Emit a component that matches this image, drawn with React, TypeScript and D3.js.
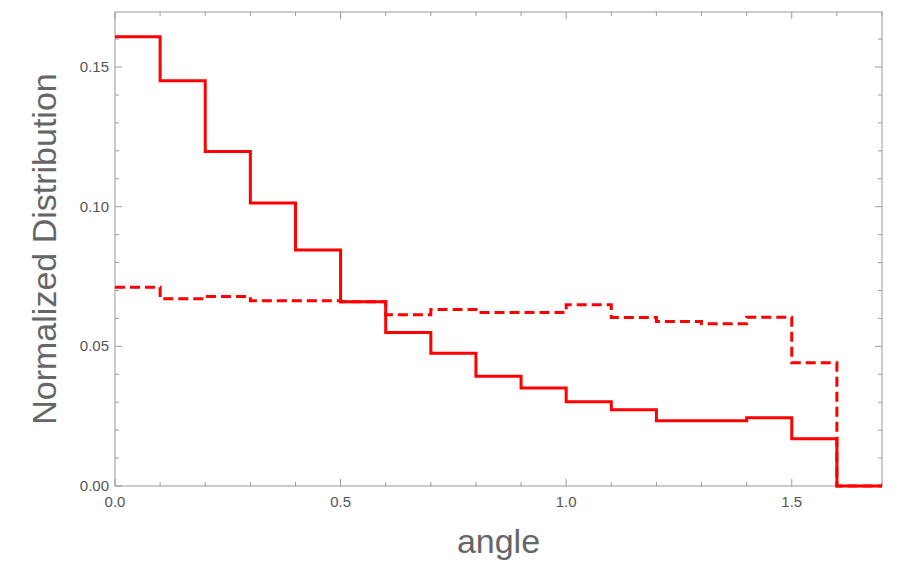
import React from "react";
import * as d3 from "d3";

const binEdges = [0, 0.1, 0.2, 0.3, 0.4, 0.5, 0.6, 0.7, 0.8, 0.9, 1.0, 1.1, 1.2, 1.3, 1.4, 1.5, 1.6, 1.7];
const solidValues = [0.1608, 0.1451, 0.1198, 0.1013, 0.0845, 0.0660, 0.0550, 0.0475, 0.0393, 0.0351, 0.0302, 0.0273, 0.0234, 0.0234, 0.0244, 0.0169, 0];
const dashedValues = [0.0712, 0.0670, 0.0678, 0.0663, 0.0663, 0.0660, 0.0613, 0.0632, 0.0621, 0.0621, 0.0649, 0.0603, 0.0589, 0.0581, 0.0604, 0.0441, 0];
const xMajorTicks = [0, 0.5, 1.0, 1.5];
const yMajorTicks = [0, 0.05, 0.1, 0.15];

const W = 900, H = 565;
const left = 115, right = 882, top = 12, bottom = 486;

export default function App() {
  const x = d3.scaleLinear().domain([0, 1.7]).range([left, right]);
  const y = d3.scaleLinear().domain([0, 0.1697]).range([bottom, top]);

  const stepPath = (vals: number[]) => {
    const pts: [number, number][] = [];
    vals.forEach((v, i) => {
      pts.push([binEdges[i], v]);
      pts.push([binEdges[i + 1], v]);
    });
    return d3.line<[number, number]>().x(d => x(d[0])).y(d => y(d[1]))(pts) || "";
  };

  const xMinor = d3.range(0, 17 + 1).map(i => i / 10).filter(v => !xMajorTicks.some(m => Math.abs(m - v) < 1e-9));
  const yMinor = d3.range(0, 17).map(i => i / 100).filter(v => !yMajorTicks.some(m => Math.abs(m - v) < 1e-9));
  const frame = "#9a9a9a";
  const font = "Liberation Sans, Arial, sans-serif";

  return (
    <svg width={W} height={H} style={{ position: "absolute", left: 0, top: 0, background: "#fff" }}>
      <rect x={left} y={top} width={right - left} height={bottom - top} fill="none" stroke={frame} strokeWidth={1} />
      {/* x ticks bottom & top */}
      {xMajorTicks.map(t => (
        <g key={"xM" + t}>
          <line x1={x(t)} x2={x(t)} y1={bottom} y2={bottom - 7} stroke={frame} />
          <line x1={x(t)} x2={x(t)} y1={top} y2={top + 7} stroke={frame} />
          <text x={x(t)} y={507} textAnchor="middle" fontFamily={font} fontSize={15} fill="#555">{t.toFixed(1)}</text>
        </g>
      ))}
      {xMinor.map(t => (
        <g key={"xm" + t}>
          <line x1={x(t)} x2={x(t)} y1={bottom} y2={bottom - 4} stroke={frame} />
          <line x1={x(t)} x2={x(t)} y1={top} y2={top + 4} stroke={frame} />
        </g>
      ))}
      {/* y ticks left & right */}
      {yMajorTicks.map(t => (
        <g key={"yM" + t}>
          <line x1={left} x2={left + 7} y1={y(t)} y2={y(t)} stroke={frame} />
          <line x1={right} x2={right - 7} y1={y(t)} y2={y(t)} stroke={frame} />
          <text x={109} y={y(t) + 5} textAnchor="end" fontFamily={font} fontSize={15} fill="#555">{t.toFixed(2)}</text>
        </g>
      ))}
      {yMinor.map(t => (
        <g key={"ym" + t}>
          <line x1={left} x2={left + 4} y1={y(t)} y2={y(t)} stroke={frame} />
          <line x1={right} x2={right - 4} y1={y(t)} y2={y(t)} stroke={frame} />
        </g>
      ))}
      <path d={stepPath(dashedValues)} fill="none" stroke="#ff0000" strokeWidth={3} strokeDasharray="10,5" />
      <path d={stepPath(solidValues)} fill="none" stroke="#ff0000" strokeWidth={3} />
      <text x={(left + right) / 2} y={553} textAnchor="middle" fontFamily={font} fontSize={34} fill="#666">angle</text>
      <text transform={`translate(56, ${(top + bottom) / 2}) rotate(-90)`} textAnchor="middle" fontFamily={font} fontSize={34} fill="#666">Normalized Distribution</text>
    </svg>
  );
}
